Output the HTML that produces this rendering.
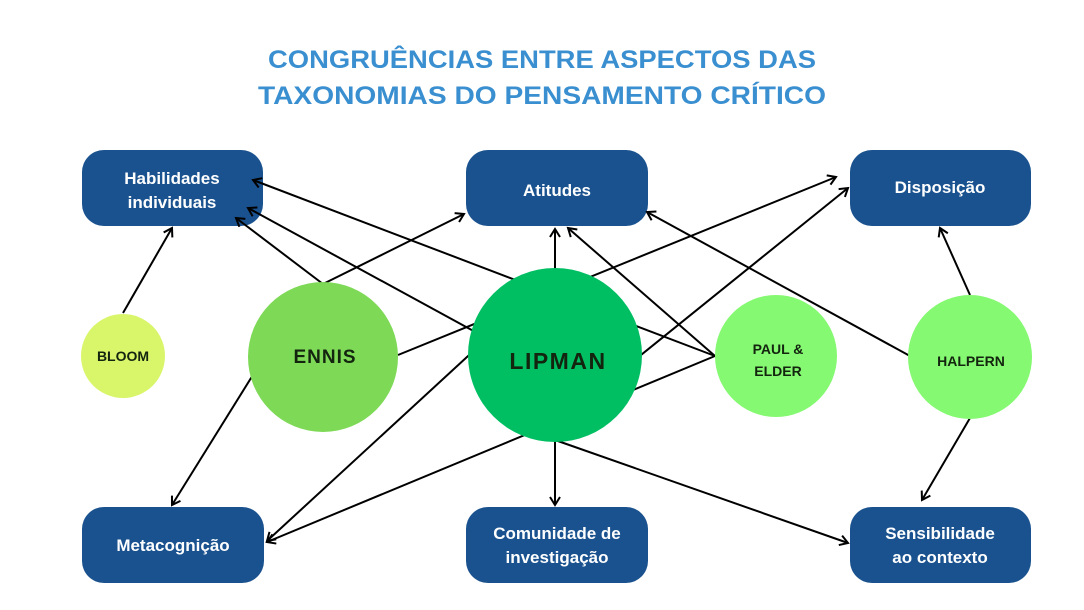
<!DOCTYPE html>
<html><head><meta charset="utf-8"><style>
html,body{margin:0;padding:0;background:#fff;}
svg{display:block;}
text{font-family:"Liberation Sans",sans-serif;font-weight:bold;}
</style></head><body>
<svg width="1084" height="610" viewBox="0 0 1084 610" xmlns="http://www.w3.org/2000/svg">
<defs>
<marker id="a" markerWidth="12" markerHeight="12" refX="10" refY="6" orient="auto" markerUnits="userSpaceOnUse">
<polyline points="2,1 10,6 2,11" fill="none" stroke="#000" stroke-width="2"/>
</marker>
</defs>
<rect width="1084" height="610" fill="#fff"/>
<text x="542" y="68" text-anchor="middle" font-size="25" fill="#3a8fd0" textLength="548" lengthAdjust="spacingAndGlyphs">CONGRUÊNCIAS ENTRE ASPECTOS DAS</text>
<text x="542" y="104" text-anchor="middle" font-size="25" fill="#3a8fd0" textLength="568" lengthAdjust="spacingAndGlyphs">TAXONOMIAS DO PENSAMENTO CRÍTICO</text>

<g fill="#1a528f">
<rect x="82" y="150" width="181" height="76" rx="22"/>
<rect x="466" y="150" width="182" height="76" rx="22"/>
<rect x="850" y="150" width="181" height="76" rx="22"/>
<rect x="82" y="507" width="182" height="76" rx="22"/>
<rect x="466" y="507" width="182" height="76" rx="22"/>
<rect x="850" y="507" width="181" height="76" rx="22"/>
</g>
<g fill="#fff" font-size="17" text-anchor="middle">
<text x="172" y="184">Habilidades</text>
<text x="172" y="208">individuais</text>
<text x="557" y="196">Atitudes</text>
<text x="940" y="193">Disposição</text>
<text x="173" y="551">Metacognição</text>
<text x="557" y="539">Comunidade de</text>
<text x="557" y="563">investigação</text>
<text x="940" y="539">Sensibilidade</text>
<text x="940" y="563">ao contexto</text>
</g>

<g stroke="#000" stroke-width="2" fill="none" marker-end="url(#a)">
<line x1="123" y1="313" x2="172" y2="228"/>
<line x1="323" y1="284" x2="236" y2="218"/>
<line x1="323" y1="284" x2="464" y2="214"/>
<line x1="398" y1="355" x2="836" y2="177"/>
<line x1="256" y1="370" x2="172" y2="505"/>
<line x1="715" y1="356" x2="253" y2="180"/>
<line x1="715" y1="356" x2="568" y2="228"/>
<line x1="715" y1="356" x2="267" y2="542"/>
<line x1="490" y1="340" x2="248" y2="208"/>
<line x1="480" y1="345" x2="267" y2="541"/>
<line x1="555" y1="270" x2="555" y2="229"/>
<line x1="610" y1="380" x2="848" y2="188"/>
<line x1="910" y1="356" x2="647" y2="212"/>
<line x1="970" y1="295" x2="940" y2="228"/>
<line x1="970" y1="418" x2="922" y2="500"/>
<line x1="555" y1="440" x2="555" y2="505"/>
<line x1="555" y1="440" x2="848" y2="543"/>
</g>

<circle cx="123" cy="356" r="42" fill="#d9f66b"/>
<circle cx="323" cy="357" r="75" fill="#7ed957"/>
<circle cx="555" cy="355" r="87" fill="#00bf63"/>
<circle cx="776" cy="356" r="61" fill="#85f971"/>
<circle cx="970" cy="357" r="62" fill="#85f971"/>
<g fill="#13240f" text-anchor="middle">
<text x="123" y="361" font-size="14">BLOOM</text>
<text x="325" y="363" font-size="19" letter-spacing="1">ENNIS</text>
<text x="558" y="369" font-size="23" letter-spacing="1.5">LIPMAN</text>
<text x="778" y="354" font-size="14">PAUL &amp;</text>
<text x="778" y="376" font-size="14">ELDER</text>
<text x="971" y="366" font-size="14">HALPERN</text>
</g>
</svg>
</body></html>
